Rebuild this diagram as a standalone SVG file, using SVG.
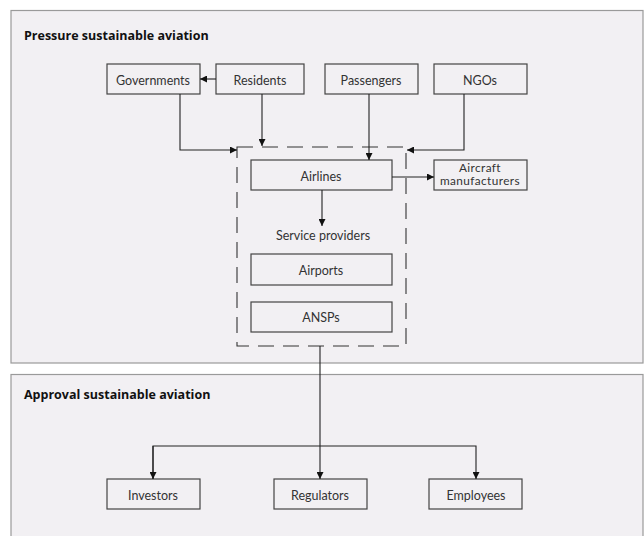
<svg xmlns="http://www.w3.org/2000/svg" width="644" height="536" viewBox="0 0 644 536">
<defs>
<marker id="ah" viewBox="0 0 10 10" refX="10" refY="5" markerWidth="7" markerHeight="7" markerUnits="userSpaceOnUse" orient="auto">
<path d="M0,0 L10,5 L0,10 z" fill="#111"/>
</marker>
<style>
.panel{fill:#f2f0f3;stroke:#9a9a9a;stroke-width:1.2}
.box{fill:none;stroke:#444;stroke-width:1.2}
.t{font-family:Lato,"Open Sans",sans-serif;font-size:12.5px;fill:#333;text-anchor:middle}
.s{font-size:11.8px;letter-spacing:0.4px}
.h{font-family:"Open Sans",Lato,sans-serif;font-size:12.5px;font-weight:bold;fill:#111}
.c{fill:none;stroke:#222;stroke-width:1.1}
.dash{fill:none;stroke:#333;stroke-width:1.1;stroke-dasharray:16 9}
</style>
</defs>
<rect width="644" height="536" fill="#fff"/>
<g id="pressure-panel">
<rect class="panel" x="11" y="10.5" width="632" height="352.5"/>
<text class="h" x="24" y="40">Pressure sustainable aviation</text>
</g>
<g id="approval-panel">
<rect class="panel" x="11" y="374.5" width="632" height="170"/>
<text class="h" x="24" y="399">Approval sustainable aviation</text>
</g>
<g id="service-providers">
<rect class="dash" x="237" y="147" width="169" height="199"/>
<text class="t" x="323" y="240">Service providers</text>
</g>
<g id="governments"><rect class="box" x="107" y="64" width="93" height="30"/><text class="t" x="153" y="84.5">Governments</text></g>
<g id="residents"><rect class="box" x="216" y="64" width="88" height="30"/><text class="t" x="260" y="84.5">Residents</text></g>
<g id="passengers"><rect class="box" x="325" y="64" width="93" height="30"/><text class="t" x="371" y="84.5">Passengers</text></g>
<g id="ngos"><rect class="box" x="434" y="64" width="93" height="30"/><text class="t" x="480" y="84.5">NGOs</text></g>
<g id="airlines"><rect class="box" x="251" y="160" width="141" height="30"/><text class="t" x="321" y="180.5">Airlines</text></g>
<g id="aircraft-manufacturers"><rect class="box" x="434" y="160" width="93" height="30"/><text class="t s" x="480" y="171.5">Aircraft</text><text class="t s" x="480" y="185">manufacturers</text></g>
<g id="airports"><rect class="box" x="251" y="254" width="141" height="31"/><text class="t" x="321" y="274.5">Airports</text></g>
<g id="ansps"><rect class="box" x="251" y="302" width="141" height="30"/><text class="t" x="321" y="322">ANSPs</text></g>
<g id="investors"><rect class="box" x="107" y="479" width="93" height="30"/><text class="t" x="153" y="499.5">Investors</text></g>
<g id="regulators"><rect class="box" x="274" y="479" width="93" height="30"/><text class="t" x="320" y="499.5">Regulators</text></g>
<g id="employees"><rect class="box" x="429" y="479" width="93" height="30"/><text class="t" x="476" y="499.5">Employees</text></g>
<g id="connectors">
<path class="c" d="M216,79 H200" marker-end="url(#ah)"/>
<path class="c" d="M180,94 V150 H237" marker-end="url(#ah)"/>
<path class="c" d="M262,94 V146" marker-end="url(#ah)"/>
<path class="c" d="M369,94 V160" marker-end="url(#ah)"/>
<path class="c" d="M464,94 V150 H407" marker-end="url(#ah)"/>
<path class="c" d="M392,177 H434" marker-end="url(#ah)"/>
<path class="c" d="M322,190 V226" marker-end="url(#ah)"/>
<path class="c" d="M320,346 V479" marker-end="url(#ah)"/>
<path class="c" d="M153,479 V446 H476 V479" marker-end="url(#ah)"/>
<path class="c" d="M153,446 V479" marker-end="url(#ah)"/>
</g>
</svg>
